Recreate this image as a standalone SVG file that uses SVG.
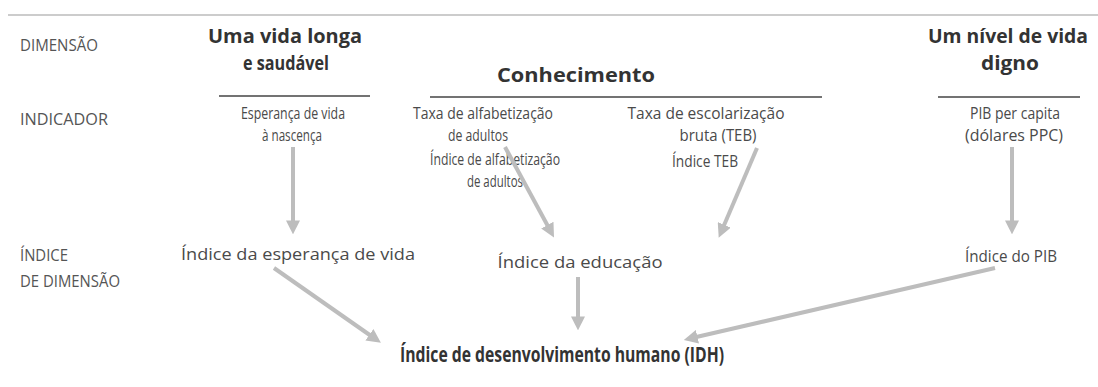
<svg xmlns="http://www.w3.org/2000/svg" width="1098" height="387" viewBox="0 0 1098 387">
<defs>
<style>
.lab{font-family:"Open Sans","Liberation Sans",sans-serif;font-size:17px;fill:#4a4a4a;}
.row{font-family:"Open Sans","Liberation Sans",sans-serif;font-size:17px;fill:#555;}
.ttl{font-family:"Open Sans","Liberation Sans",sans-serif;font-size:20px;font-weight:bold;fill:#333;}
.idh{font-family:"Open Sans","Liberation Sans",sans-serif;font-size:21px;font-weight:bold;fill:#333;}
.rule{stroke:#444;stroke-width:1.5;}
.arr{stroke:#bdbdbd;stroke-width:4;fill:none;marker-end:url(#ah);}
</style>
<marker id="ah" viewBox="0 0 10 10" refX="4" refY="5" markerWidth="3.5" markerHeight="3.5" orient="auto" markerUnits="strokeWidth">
<path d="M0,0 L10,5 L0,10 z" fill="#bdbdbd"/>
</marker>
</defs>
<rect width="1098" height="387" fill="#fff"/>
<line x1="8" y1="15" x2="1098" y2="15" stroke="#999" stroke-width="1"/>
<g id="row-labels">
<text class="row" x="20" y="51" textLength="78" lengthAdjust="spacingAndGlyphs">DIMENSÃO</text>
<text class="row" x="20" y="125" textLength="88" lengthAdjust="spacingAndGlyphs">INDICADOR</text>
<text class="row" x="20" y="261" textLength="48" lengthAdjust="spacingAndGlyphs">ÍNDICE</text>
<text class="row" x="20" y="287" textLength="100" lengthAdjust="spacingAndGlyphs">DE DIMENSÃO</text>
</g>
<g id="dim-saude">
<text class="ttl" x="285" y="43" text-anchor="middle" textLength="154" lengthAdjust="spacingAndGlyphs">Uma vida longa</text>
<text class="ttl" x="286" y="70" text-anchor="middle" textLength="86" lengthAdjust="spacingAndGlyphs">e saudável</text>
<line class="rule" x1="219" y1="96" x2="370" y2="96"/>
</g>
<g id="dim-conhecimento">
<text class="ttl" x="576" y="82" text-anchor="middle" textLength="158" lengthAdjust="spacingAndGlyphs">Conhecimento</text>
<line class="rule" x1="430" y1="97" x2="822" y2="97"/>
</g>
<g id="dim-nivel">
<text class="ttl" x="1008" y="43" text-anchor="middle" textLength="160" lengthAdjust="spacingAndGlyphs">Um nível de vida</text>
<text class="ttl" x="1010" y="70" text-anchor="middle" textLength="58" lengthAdjust="spacingAndGlyphs">digno</text>
<line class="rule" x1="938" y1="97" x2="1080" y2="97"/>
</g>
<g id="ind-esperanca">
<text class="lab" x="293" y="119" text-anchor="middle" textLength="104" lengthAdjust="spacingAndGlyphs">Esperança de vida</text>
<text class="lab" x="292" y="141" text-anchor="middle" textLength="60" lengthAdjust="spacingAndGlyphs">à nascença</text>
</g>
<g id="ind-alfabetizacao">
<text class="lab" x="483" y="119" text-anchor="middle" textLength="140" lengthAdjust="spacingAndGlyphs">Taxa de alfabetização</text>
<text class="lab" x="478" y="141" text-anchor="middle" textLength="60" lengthAdjust="spacingAndGlyphs">de adultos</text>
</g>
<g id="ind-escolarizacao">
<text class="lab" x="706" y="119" text-anchor="middle" textLength="157" lengthAdjust="spacingAndGlyphs">Taxa de escolarização</text>
<text class="lab" x="718" y="141" text-anchor="middle" textLength="77" lengthAdjust="spacingAndGlyphs">bruta (TEB)</text>
</g>
<g id="ind-pib">
<text class="lab" x="1015" y="119" text-anchor="middle" textLength="90" lengthAdjust="spacingAndGlyphs">PIB per capita</text>
<text class="lab" x="1014" y="141" text-anchor="middle" textLength="98" lengthAdjust="spacingAndGlyphs">(dólares PPC)</text>
</g>
<g id="idx-alfabetizacao">
<text class="lab" x="495" y="165" text-anchor="middle" textLength="130" lengthAdjust="spacingAndGlyphs">Índice de alfabetização</text>
<text class="lab" x="495" y="187" text-anchor="middle" textLength="56" lengthAdjust="spacingAndGlyphs">de adultos</text>
</g>
<g id="idx-teb">
<text class="lab" x="705" y="167" text-anchor="middle" textLength="66" lengthAdjust="spacingAndGlyphs">Índice TEB</text>
</g>
<g id="idx-esperanca">
<text class="lab" x="298" y="260" text-anchor="middle" textLength="234" lengthAdjust="spacingAndGlyphs">Índice da esperança de vida</text>
</g>
<g id="idx-educacao">
<text class="lab" x="580" y="268" text-anchor="middle" textLength="165" lengthAdjust="spacingAndGlyphs">Índice da educação</text>
</g>
<g id="idx-pib">
<text class="lab" x="1011" y="262" text-anchor="middle" textLength="92" lengthAdjust="spacingAndGlyphs">Índice do PIB</text>
</g>
<g id="idh">
<text class="idh" x="562" y="362" text-anchor="middle" textLength="324" lengthAdjust="spacingAndGlyphs">Índice de desenvolvimento humano (IDH)</text>
</g>
<g id="connectors">
<line class="arr" x1="293" y1="147" x2="293" y2="226"/>
<line class="arr" x1="505" y1="147" x2="550" y2="230"/>
<line class="arr" x1="757" y1="148" x2="722" y2="230"/>
<line class="arr" x1="1012" y1="147" x2="1012" y2="226"/>
<line class="arr" x1="274" y1="268" x2="374" y2="338"/>
<line class="arr" x1="578" y1="277" x2="578" y2="322"/>
<line class="arr" x1="995" y1="268" x2="692" y2="338"/>
</g>
</svg>
